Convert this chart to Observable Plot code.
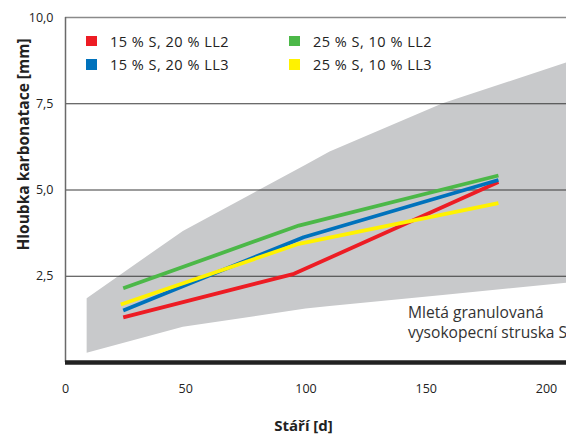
<!DOCTYPE html>
<html><head><meta charset="utf-8">
<script src="https://cdn.jsdelivr.net/npm/d3@7"></script>
<script src="https://cdn.jsdelivr.net/npm/@observablehq/plot@0.6"></script>
<style>
body{margin:0;background:#fff;font-family:"Open Sans","Noto Sans",sans-serif;}
#wrap{position:relative;width:566px;height:436px;overflow:hidden;}
.leg{position:absolute;font-size:14.5px;letter-spacing:0.5px;color:#222;white-space:nowrap;display:flex;align-items:center;height:20px;}
.sw{width:10.5px;height:10.5px;display:inline-block;margin-right:13.5px;}
.note{position:absolute;font-size:15.6px;color:#333;line-height:20px;white-space:nowrap;}
</style></head>
<body><div id="wrap"></div>
<script>
// Series (age in days, carbonation depth in mm)
const seriesNames = ["15 % S, 20 % LL2", "15 % S, 20 % LL3", "25 % S, 10 % LL2", "25 % S, 10 % LL3"];
const seriesColors = ["#ed1c24", "#0072bc", "#4cb848", "#fff200"];
const redX = [24, 95, 180],    redY = [1.31, 2.57, 5.23];
const blueX = [24, 99, 180],   blueY = [1.51, 3.63, 5.29];
const greenX = [24, 97, 180],  greenY = [2.15, 3.97, 5.42];
const yellowX = [23, 97, 180], yellowY = [1.68, 3.44, 4.62];
// Range band for ground granulated blast furnace slag
const bandX = [9, 49, 100, 110, 157, 208.3];
const bandLo = [0.27, 1.02, 1.55, 1.62, 1.94, 2.3];
const bandHi = [1.85, 3.8, 5.72, 6.1, 7.5, 8.68];
const xTicks = [0, 50, 100, 150, 200];
const yTicks = [2.5, 5, 7.5, 10];
const xLabel = "Stáří [d]";
const yLabel = "Hloubka karbonatace [mm]";
const noteText = ["Mletá granulovaná", "vysokopecní struska S"];

const band = bandX.map((x, i) => ({x, lo: bandLo[i], hi: bandHi[i]}));
const allX = [redX, blueX, greenX, yellowX], allY = [redY, blueY, greenY, yellowY];
const lines = [];
allX.forEach((xs, s) => xs.forEach((x, i) => lines.push({s: seriesNames[s], x, y: allY[s][i]})));

const fmt = d => d3.format(".1f")(d).replace(".", ",");

const chart = Plot.plot({
  width: 566, height: 436,
  marginLeft: 65, marginRight: 0, marginTop: 17, marginBottom: 74,
  style: {fontFamily: "'Open Sans', 'Noto Sans', sans-serif", fontSize: "12.5px", color: "#222", background: "#fff"},
  x: {domain: [0, 208.3]},
  y: {domain: [0, 10]},
  color: {domain: seriesNames, range: seriesColors},
  marks: [
    Plot.areaY(band, {x: "x", y1: "lo", y2: "hi", fill: "#c8c9cb", clip: true}),
    Plot.ruleY([2.5, 5, 7.5], {stroke: "#3a3a3a", strokeWidth: 1.2}),
    Plot.ruleY([10], {stroke: "#8a8a8a", strokeWidth: 1.5}),
    Plot.ruleX([0], {stroke: "#6a6a6a", strokeWidth: 1.5}),
    Plot.line(lines, {x: "x", y: "y", z: "s", stroke: "s", strokeWidth: 3.8, strokeLinecap: "butt", strokeLinejoin: "round", clip: true}),
    Plot.ruleY([0], {stroke: "#222", strokeWidth: 4.5}),
    Plot.axisX({ticks: xTicks, tickSize: 0, tickPadding: 22, label: null, fontSize: 12.5}),
    Plot.axisY({ticks: yTicks, tickSize: 0, tickPadding: 12, tickFormat: fmt, label: null, fontSize: 12.5}),
    Plot.text([xLabel], {frameAnchor: "bottom-left", textAnchor: "middle", dx: 238, dy: 68, fontWeight: "bold", fontSize: 15, fill: "#222"}),
    Plot.text([yLabel], {frameAnchor: "top-left", textAnchor: "middle", rotate: -90, dx: -48, dy: 127, fontWeight: "bold", fontSize: 15.5, fill: "#222"})
  ]
});
const wrap = document.getElementById("wrap");
wrap.appendChild(chart);

// Legend (HTML overlay)
const legPos = [[86, 31], [86, 54.5], [289, 31], [289, 54.5]];
seriesNames.forEach((n, i) => {
  const d = document.createElement("div");
  d.className = "leg";
  d.style.left = legPos[i][0] + "px";
  d.style.top = legPos[i][1] + "px";
  d.innerHTML = `<span class="sw" style="background:${seriesColors[i]}"></span>${n}`;
  wrap.appendChild(d);
});
const note = document.createElement("div");
note.className = "note";
note.style.left = "408px"; note.style.top = "302px";
note.innerHTML = noteText.join("<br>");
wrap.appendChild(note);
</script></body></html>
